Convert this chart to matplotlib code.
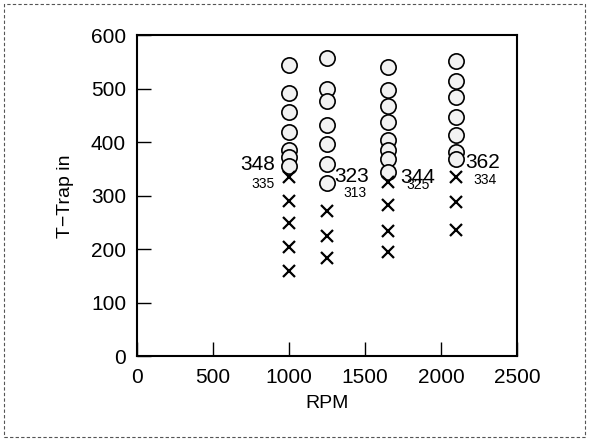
import matplotlib.pyplot as plt
from matplotlib.patches import Rectangle

plt.rcParams['font.family'] = ['Liberation Sans', 'DejaVu Sans']

# circle series (upper) and cross series (lower) for each RPM
rpm = [1000, 1250, 1650, 2100]
circles = [
    [545, 492, 457, 420, 385, 372, 356],
    [558, 500, 478, 432, 396, 360, 323],
    [540, 498, 468, 437, 405, 385, 368, 345],
    [552, 515, 485, 447, 413, 382, 368],
]
crosses = [
    [335, 290, 250, 205, 160],
    [272, 225, 183],
    [325, 283, 235, 195],
    [335, 288, 237],
]
big_labels = ["348", "323", "344", "362"]
small_labels = ["335", "313", "325", "334"]
big_pos = [(796, 358), (1414, 336), (1849, 334), (2270, 362)]
small_pos = [(829, 322), (1434, 306), (1849, 320), (2289, 330)]

fig = plt.figure(figsize=(5.91, 4.40), dpi=100)
ax = fig.add_axes([0.232, 0.19, 0.643, 0.73])

for r, c in zip(rpm, circles):
    ax.plot([r] * len(c), c, "o", ms=11, mfc="#f2f2f2", mec="k", mew=1.2)
for r, c in zip(rpm, crosses):
    ax.plot([r] * len(c), c, "x", ms=9, color="k", mew=1.6)

for t, (x, y) in zip(big_labels, big_pos):
    ax.text(x, y, t, fontsize=15, ha="center", va="center")
for t, (x, y) in zip(small_labels, small_pos):
    ax.text(x, y, t, fontsize=10, ha="center", va="center")

ax.set_xlim(0, 2500)
ax.set_ylim(0, 600)
ax.set_xticks([0, 500, 1000, 1500, 2000, 2500])
ax.set_yticks([0, 100, 200, 300, 400, 500, 600])
ax.tick_params(direction="in", length=10, width=1, labelsize=15, pad=8)
for s in ax.spines.values():
    s.set_linewidth(1.5)
ax.set_xlabel("RPM", fontsize=14, labelpad=6)
ax.set_ylabel("T\u2212Trap in", fontsize=14, labelpad=12)

# dashed border around the figure
fig.patches.append(Rectangle((0.006, 0.006), 0.984, 0.986, transform=fig.transFigure,
                             fill=False, ls=(0, (3, 2)), lw=0.8, ec="#555555"))

fig.savefig("out.png", dpi=100)
